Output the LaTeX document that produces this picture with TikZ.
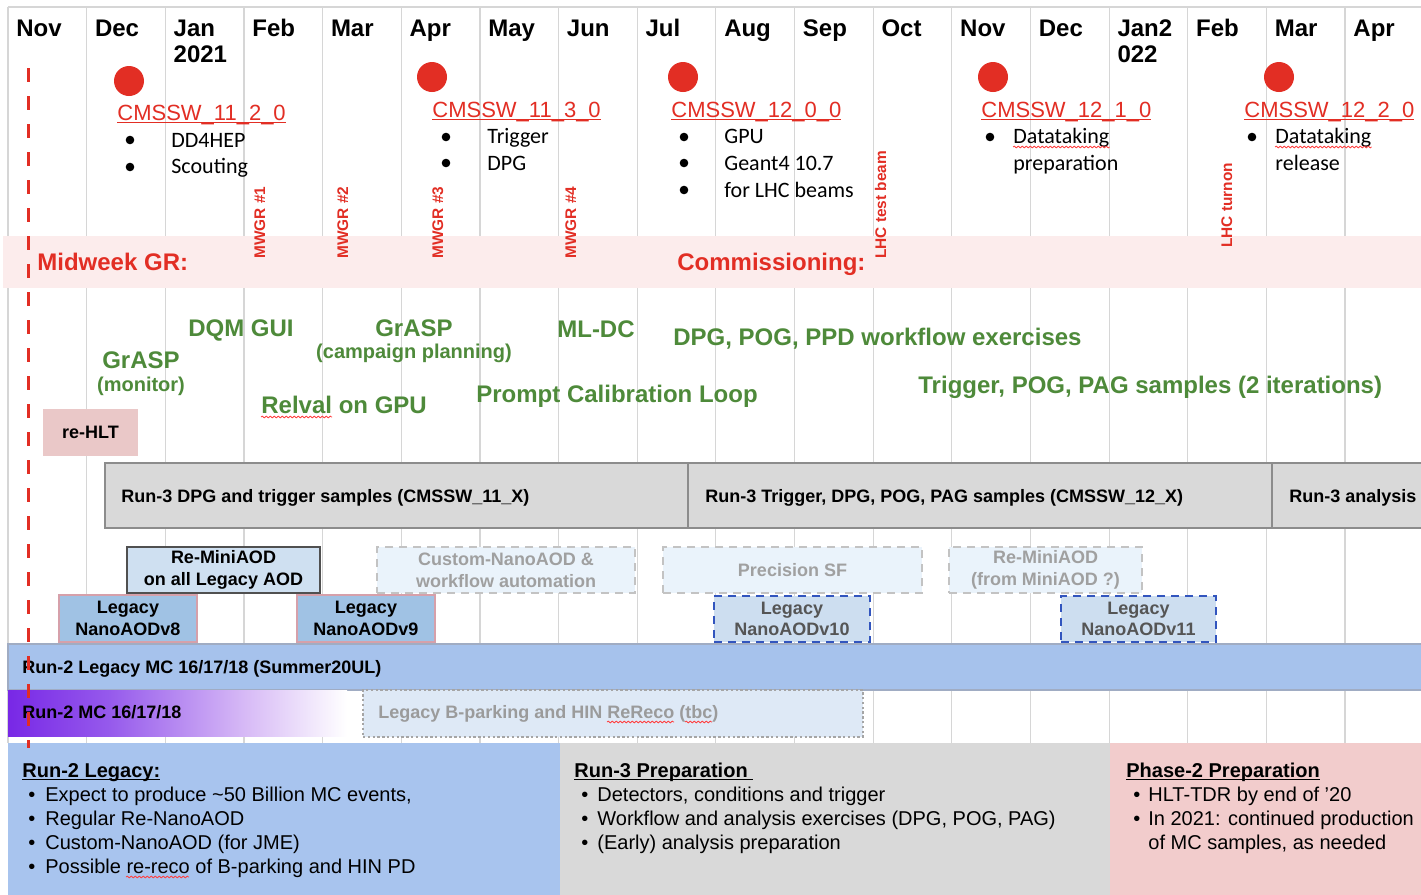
\documentclass[tikz,border=0pt]{standalone}
\usepackage{fontspec}
\setmainfont{Liberation Sans}
\newfontfamily\carlito{Carlito}
\usetikzlibrary{calc,decorations.pathmorphing}

\newsavebox\ulbox
\newcommand\ulined[1]{\sbox\ulbox{#1}\rlap{\rule[-1.7pt]{\wd\ulbox}{0.6pt}}\usebox\ulbox}

\definecolor{gridc}{RGB}{214,214,214}
\definecolor{cmsred}{RGB}{226,46,36}
\definecolor{bandc}{RGB}{252,236,236}
\definecolor{actgreen}{RGB}{78,138,58}
\definecolor{rehltc}{RGB}{234,200,200}
\definecolor{run3fill}{RGB}{217,217,217}
\definecolor{run3edge}{RGB}{140,140,140}
\definecolor{reminifill}{RGB}{207,224,241}
\definecolor{darkedge}{RGB}{80,80,80}
\definecolor{ghostfill}{RGB}{234,243,251}
\definecolor{ghostedge}{RGB}{195,195,195}
\definecolor{ghosttext}{RGB}{160,160,160}
\definecolor{nanofill}{RGB}{160,194,228}
\definecolor{nanoedge}{RGB}{214,160,170}
\definecolor{planfill}{RGB}{205,222,240}
\definecolor{planedge}{RGB}{50,85,190}
\definecolor{plantext}{RGB}{85,85,85}
\definecolor{run2c}{RGB}{166,194,236}
\definecolor{run2edge}{RGB}{160,172,195}
\definecolor{bpfill}{RGB}{222,233,246}
\definecolor{bpedge}{RGB}{165,165,165}
\definecolor{bptext}{RGB}{155,155,155}
\definecolor{botblue}{RGB}{168,196,238}
\definecolor{botgray}{RGB}{217,217,217}
\definecolor{botpink}{RGB}{242,204,204}
\definecolor{purA}{RGB}{120,40,230}
\definecolor{purB}{RGB}{150,90,236}
\definecolor{purC}{RGB}{215,186,246}

\pgfdeclarehorizontalshading{runtwoshade}{100bp}{color(0bp)=(purA); color(25bp)=(purA); color(40bp)=(purB); color(60bp)=(purC); color(75bp)=(white); color(100bp)=(white)}

\tikzset{
  gridline/.style={draw=gridc, line width=0.6pt},
  month/.style={anchor=base west, inner sep=0pt, font=\bfseries\fontsize{12}{14}\selectfont},
  rel/.style={anchor=base west, inner sep=0pt, text=cmsred, font=\fontsize{11}{13}\selectfont},
  relitem/.style={anchor=base west, inner sep=0pt, font=\carlito\fontsize{11}{13}\selectfont},
  bul/.style={circle, fill=black, inner sep=0pt, minimum size=4.3pt},
  relmark/.style={circle, fill=cmsred, inner sep=0pt, minimum size=15pt},
  vlabel/.style={anchor=base west, inner sep=0pt, rotate=90, text=cmsred, font=\bfseries\fontsize{7.7}{9}\selectfont},
  redhead/.style={anchor=base west, inner sep=0pt, text=cmsred, font=\bfseries\fontsize{12}{14}\selectfont},
  act/.style={inner sep=0pt, text=actgreen, font=\bfseries\fontsize{12}{14}\selectfont},
  actsub/.style={inner sep=0pt, text=actgreen, font=\bfseries\fontsize{10}{12}\selectfont},
  boxtext/.style={align=center, inner sep=0pt, font=\bfseries\fontsize{9}{10.8}\selectfont},
  sz/.style 2 args={minimum width=#1*0.5pt, minimum height=#2*0.5pt},
  solidbox/.style={boxtext, draw=darkedge, line width=1pt, fill=reminifill},
  ghostbox/.style={boxtext, draw=ghostedge, line width=1pt, dash pattern=on 4pt off 3pt, fill=ghostfill, text=ghosttext},
  nanobox/.style={boxtext, draw=nanoedge, line width=0.6pt, fill=nanofill},
  nanoplan/.style={boxtext, draw=planedge, line width=1.2pt, dash pattern=on 4pt off 3pt, fill=planfill, text=plantext},
  barlabel/.style={anchor=base west, inner sep=0pt, font=\bfseries\fontsize{9}{11}\selectfont},
  bottitle/.style={anchor=base west, inner sep=0pt, font=\bfseries\fontsize{10}{12}\selectfont},
  botline/.style={anchor=base west, inner sep=0pt, font=\fontsize{10}{12}\selectfont},
  spell/.style={draw=red!75, line width=0.4pt, decorate, decoration={snake, amplitude=0.45pt, segment length=2pt}},
}

\begin{document}
\begin{tikzpicture}[x=0.5pt,y=-0.5pt]
\useasboundingbox (0,0) rectangle (1421,895);
\fill[white] (0,0) rectangle (1421,895);

% month grid
\foreach \k in {0,...,17} \draw[gridline] ({8+78.65*\k},7) -- ({8+78.65*\k},743);
\draw[gridline] (8,7) -- (1421,7);

% midweek band
\fill[bandc] (3,236) rectangle (1421,288);

% month labels
\foreach \k/\m in {0/Nov,1/Dec,2/Jan,3/Feb,4/Mar,5/Apr,6/May,7/Jun,8/Jul,9/Aug,10/Sep,11/Oct,12/Nov,13/Dec,14/Jan2,15/Feb,16/Mar,17/Apr}
  \node[month] (mon\k) at ({16+78.65*\k},36) {\m};
\node[month] (yr1) at ({16+78.65*2},62) {2021};
\node[month] (yr2) at ({16+78.65*14},62) {022};

% releases
\node[relmark] (c1) at (129,81) {};
\node[relmark] (c2) at (432,77) {};
\node[relmark] (c3) at (683,77) {};
\node[relmark] (c4) at (993,77) {};
\node[relmark] (c5) at (1279,77) {};

\node[rel] (rel1) at (117,120) {\ulined{CMSSW\_11\_2\_0}};
\node[rel] (rel2) at (432,117) {\ulined{CMSSW\_11\_3\_0}};
\node[rel] (rel3) at (671,117) {\ulined{CMSSW\_12\_0\_0}};
\node[rel] (rel4) at (981,117) {\ulined{CMSSW\_12\_1\_0}};
\node[rel] (rel5) at (1244,117) {\ulined{CMSSW\_12\_2\_0}};

\node[bul] (b1a) at (130,140) {};
\node[bul] (b1b) at (130,167) {};
\node[relitem] (t1a) at (171,147) {DD4HEP};
\node[relitem] (t1b) at (171,173) {Scouting};

\node[bul] (b2a) at (446,137) {};
\node[bul] (b2b) at (446,163) {};
\node[relitem] (t2a) at (487,143) {Trigger};
\node[relitem] (t2b) at (487,170) {DPG};

\node[bul] (b3a) at (684,137) {};
\node[bul] (b3b) at (684,163) {};
\node[bul] (b3c) at (684,190) {};
\node[relitem] (t3a) at (724,143) {GPU};
\node[relitem] (t3b) at (724,170) {Geant4 10.7};
\node[relitem] (t3c) at (724,197) {for LHC beams};

\node[bul] (b4a) at (990,137) {};
\node[relitem] (t4a) at (1013,143) {Datataking};
\node[relitem] (t4b) at (1013,170) {preparation};

\node[bul] (b5a) at (1252,137) {};
\node[relitem] (t5a) at (1275,143) {Datataking};
\node[relitem] (t5b) at (1275,170) {release};

\draw[spell] ($(t4a.base west)+(0,4)$) -- ($(t4a.base east)+(0,4)$);
\draw[spell] ($(t5a.base west)+(0,4)$) -- ($(t5a.base east)+(0,4)$);

% vertical milestone labels
\node[vlabel] (mw1) at (265,259) {MWGR \#1};
\node[vlabel] (mw2) at (348,259) {MWGR \#2};
\node[vlabel] (mw3) at (443,259) {MWGR \#3};
\node[vlabel] (mw4) at (576,259) {MWGR \#4};
\node[vlabel] (lhc1) at (886,259) {LHC test beam};
\node[vlabel] (lhc2) at (1232,248) {LHC turnon};

\node[redhead] (mwgr) at (37,270) {Midweek GR:};
\node[redhead] (comm) at (677,270) {Commissioning:};

% activities
\node[act, anchor=base] (grasp1) at (141,368) {GrASP};
\node[actsub, anchor=base] (grasp1s) at (141,391) {(monitor)};
\node[act, anchor=base] (dqm) at (241,336) {DQM GUI};
\node[act, anchor=base] (grasp2) at (414,336) {GrASP};
\node[actsub, anchor=base] (grasp2s) at (414,358) {(campaign planning)};
\node[act, anchor=base] (mldc) at (596,337) {ML-DC};
\node[act, anchor=base west] (wfex) at (673,345) {DPG, POG, PPD workflow exercises};
\node[act, anchor=base west] (relval) at (261,413) {Relval on GPU};
\node[act, anchor=base west] (pcl) at (476,402) {Prompt Calibration Loop};
\node[act, anchor=base west] (trig) at (918,393) {Trigger, POG, PAG samples (2 iterations)};
\draw[spell] ($(relval.base west)+(0,4)$) -- ++(71,0);

\node[boxtext, fill=rehltc, sz={95}{47}] (rehlt) at (90.5,432.5) {re-HLT};

% Run-3 bar
\draw[draw=run3edge, line width=1pt, fill=run3fill] (105,463) rectangle (1423,528);
\draw[draw=run3edge, line width=1pt] (688,463) -- (688,528);
\draw[draw=run3edge, line width=1pt] (1272,463) -- (1272,528);
\node[barlabel] (r3a) at (121,502) {Run-3 DPG and trigger samples (CMSSW\_11\_X)};
\node[barlabel] (r3b) at (705,502) {Run-3 Trigger, DPG, POG, PAG samples (CMSSW\_12\_X)};
\node[barlabel] (r3c) at (1289,502) {Run-3 analysis};

% boxes
\node[solidbox, sz={193}{46}] (remini) at (223.5,570) {Re-MiniAOD\\on all Legacy AOD};
\node[ghostbox, sz={258}{46}] (custom) at (506,570) {Custom-NanoAOD \&\\workflow automation};
\node[ghostbox, sz={259}{46}] (psf) at (792.5,570) {Precision SF};
\node[ghostbox, sz={193}{46}] (remini2) at (1045.5,570) {Re-MiniAOD\\(from MiniAOD ?)};
\node[nanobox, sz={138}{47}] (nano8) at (128,618.5) {Legacy\\NanoAODv8};
\node[nanobox, sz={138}{47}] (nano9) at (366,618.5) {Legacy\\NanoAODv9};
\node[nanoplan, sz={156}{46}] (nano10) at (792,619) {Legacy\\NanoAODv10};
\node[nanoplan, sz={155}{46}] (nano11) at (1138.5,619) {Legacy\\NanoAODv11};

% Run-2 bars
\draw[draw=run2edge, line width=0.6pt, fill=run2c] (8,644) rectangle (1423,690);
\node[barlabel] (r2leg) at (22,673) {Run-2 Legacy MC 16/17/18 (Summer20UL)};
\shade[shading=runtwoshade] (8,690) rectangle (347,736);
\node[barlabel] (r2mc) at (22,718) {Run-2 MC 16/17/18};
\node[draw=bpedge, line width=0.8pt, dash pattern=on 1.2pt off 1.2pt, fill=bpfill, sz={500}{47}, inner sep=0pt] (bpark) at (613,713.5) {};
\node[barlabel, text=bptext] (bplab) at (378,718) {Legacy B-parking and HIN ReReco (tbc)};
\draw[spell] ($(bplab.base west)+(229,4)$) -- ++(67,0);
\draw[spell] ($(bplab.base west)+(307,4)$) -- ++(27,0);

% bottom blocks
\fill[botblue] (8,743) rectangle (560,895);
\fill[botgray] (560,743) rectangle (1110,895);
\fill[botpink] (1110,743) rectangle (1421,895);

\node[bottitle] (h1) at (22,777) {\ulined{Run-2 Legacy:}};
\node[botline] (d1a) at (28,801) {\textbullet};
\node[botline] (d1b) at (28,825) {\textbullet};
\node[botline] (d1c) at (28,849) {\textbullet};
\node[botline] (d1d) at (28,873) {\textbullet};
\node[botline] (l1a) at (45,801) {Expect to produce \textasciitilde50 Billion MC events,};
\node[botline] (l1b) at (45,825) {Regular Re-NanoAOD};
\node[botline] (l1c) at (45,849) {Custom-NanoAOD (for JME)};
\node[botline] (l1d) at (45,873) {Possible re-reco of B-parking and HIN PD};
\draw[spell] ($(l1d.base west)+(81,4)$) -- ++(63,0);

\node[bottitle] (h2) at (574,777) {\ulined{Run-3 Preparation\ }};
\node[botline] (d2a) at (581,801) {\textbullet};
\node[botline] (d2b) at (581,825) {\textbullet};
\node[botline] (d2c) at (581,849) {\textbullet};
\node[botline] (l2a) at (597,801) {Detectors, conditions and trigger};
\node[botline] (l2b) at (597,825) {Workflow and analysis exercises (DPG, POG, PAG)};
\node[botline] (l2c) at (597,849) {(Early) analysis preparation};

\node[bottitle] (h3) at (1126,777) {\ulined{Phase-2 Preparation}};
\node[botline] (d3a) at (1133,801) {\textbullet};
\node[botline] (d3b) at (1133,825) {\textbullet};
\node[botline] (l3a) at (1148,801) {HLT-TDR by end of ’20};
\node[botline] (l3b) at (1148,825) {In 2021: continued production};
\node[botline] (l3c) at (1148,849) {of MC samples, as needed};

% "today" marker
\draw[cmsred, line width=1.5pt, dash pattern=on 7pt off 7pt] (28,68) -- (28,748);
\end{tikzpicture}
\end{document}
